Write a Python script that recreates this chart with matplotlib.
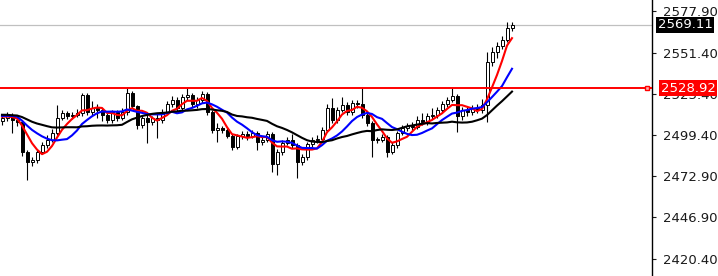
import matplotlib
matplotlib.use("Agg")
import matplotlib.pyplot as plt
import matplotlib.transforms as mtransforms
import numpy as np
import pandas as pd

# Закрытия свечей левее видимой области (нужны только для скользящих средних)
history = [
    2512.0, 2514.0, 2511.0, 2509.0, 2513.0, 2515.0, 2512.0, 2510.0, 2514.0, 2516.0,
    2513.0, 2511.0, 2509.0, 2512.0, 2514.0, 2513.0, 2511.0, 2510.0, 2512.0, 2511.0,
]

# Свечи (цены закрытия, максимумы, минимумы)
first_open = 2508.0
closes = [
    2510.0, 2511.2, 2508.7, 2507.4, 2488.4, 2482.0, 2483.3, 2488.4, 2492.8, 2496.0,
    2500.4, 2510.0, 2513.1, 2511.2, 2511.9, 2513.1, 2524.6, 2513.8, 2516.3, 2515.1,
    2511.9, 2508.7, 2513.8, 2510.0, 2513.8, 2525.8, 2517.6, 2505.5, 2510.0, 2507.4,
    2510.0, 2508.7, 2513.8, 2518.9, 2521.4, 2516.3, 2523.3, 2524.6, 2518.9, 2521.4,
    2525.2, 2513.8, 2502.4, 2503.6, 2502.4, 2498.5, 2491.6, 2498.5, 2499.8, 2498.5,
    2500.4, 2494.7, 2496.0, 2499.8, 2480.8, 2488.4, 2494.1, 2496.0, 2492.8, 2482.0,
    2485.2, 2493.5, 2496.0, 2496.6, 2502.4, 2516.3, 2508.7, 2515.1, 2518.2, 2513.8,
    2519.5, 2518.9, 2511.9, 2506.8, 2496.0, 2496.0, 2497.9, 2488.4, 2492.8, 2500.4,
    2503.6, 2504.9, 2504.3, 2508.7, 2507.4, 2511.2, 2511.9, 2515.1, 2518.9, 2521.4,
    2523.9, 2511.2, 2515.1, 2513.8, 2516.3, 2515.1, 2518.2, 2545.5, 2551.9, 2555.7,
    2559.5, 2567.1, 2569.11,
]
highs = [
    2512.5, 2514.0, 2513.0, 2511.0, 2509.0, 2489.5, 2485.0, 2489.5, 2494.5, 2499.0,
    2503.0, 2518.2, 2515.0, 2514.5, 2513.5, 2515.5, 2525.8, 2526.0, 2521.0, 2519.0,
    2516.5, 2513.0, 2515.0, 2515.0, 2516.0, 2529.0, 2527.0, 2518.5, 2512.0, 2513.1,
    2511.5, 2513.1, 2515.5, 2521.0, 2524.0, 2523.0, 2525.0, 2529.0, 2526.0, 2523.5,
    2527.0, 2526.5, 2515.0, 2506.8, 2505.0, 2503.5, 2500.0, 2500.0, 2502.0, 2501.5,
    2502.5, 2502.0, 2498.0, 2502.0, 2501.0, 2490.0, 2496.0, 2498.0, 2499.5, 2494.0,
    2487.0, 2495.0, 2498.0, 2499.0, 2504.5, 2519.0, 2522.7, 2517.0, 2523.5, 2520.0,
    2521.5, 2521.5, 2529.0, 2513.5, 2508.0, 2498.0, 2499.5, 2499.0, 2495.0, 2502.0,
    2505.5, 2507.0, 2507.5, 2511.0, 2513.0, 2513.0, 2516.0, 2517.0, 2521.0, 2523.5,
    2529.0, 2525.0, 2517.0, 2517.0, 2518.0, 2519.0, 2522.0, 2551.9, 2555.0, 2558.0,
    2562.0, 2570.9, 2570.9,
]
lows = [
    2505.5, 2508.0, 2500.5, 2505.0, 2486.0, 2470.6, 2479.5, 2481.5, 2487.0, 2491.0,
    2494.5, 2499.2, 2508.5, 2509.5, 2509.5, 2510.5, 2511.5, 2512.0, 2512.0, 2510.0,
    2508.0, 2506.5, 2507.0, 2508.0, 2508.5, 2512.0, 2516.0, 2503.0, 2503.5, 2494.1,
    2505.5, 2497.3, 2507.0, 2512.5, 2517.0, 2514.5, 2515.0, 2521.5, 2517.0, 2516.5,
    2519.5, 2512.0, 2500.4, 2494.7, 2500.5, 2497.0, 2489.5, 2490.0, 2496.5, 2496.0,
    2497.0, 2489.6, 2493.0, 2494.5, 2475.7, 2473.8, 2486.5, 2492.5, 2491.0, 2471.9,
    2480.0, 2483.5, 2491.5, 2494.0, 2495.0, 2501.0, 2507.0, 2507.0, 2513.5, 2512.0,
    2512.0, 2516.0, 2510.0, 2505.0, 2485.2, 2494.0, 2494.5, 2485.2, 2487.0, 2491.0,
    2499.0, 2502.0, 2502.5, 2503.0, 2505.5, 2505.5, 2509.5, 2510.0, 2513.5, 2517.0,
    2520.0, 2501.1, 2509.0, 2511.5, 2512.0, 2513.0, 2513.0, 2507.4, 2543.0, 2548.0,
    2553.5, 2558.0, 2565.0,
]

ma_periods = [5, 10, 21]
ma_colors = ["#ff0000", "#0000ff", "#000000"]

level = 2528.92
bid = 2569.11
yticks = [2577.90, 2551.40, 2525.40, 2499.40, 2472.90, 2446.90, 2420.40]

closes = np.array(closes)
opens = np.concatenate([[first_open], closes[:-1]])
x = np.arange(len(closes))

fig = plt.figure(figsize=(7.18, 2.76), dpi=100)
ax = fig.add_axes([0, 0, 652 / 718, 1])

# свечи
ax.vlines(x, lows, highs, color="black", lw=0.8, zorder=2)
up = closes >= opens
body = np.maximum(np.abs(closes - opens), 0.4)
bottom = np.minimum(opens, closes)
ax.bar(x[up], body[up], bottom=bottom[up], width=0.6, color="white",
       edgecolor="black", lw=0.7, zorder=3)
ax.bar(x[~up], body[~up], bottom=bottom[~up], width=0.6, color="black",
       edgecolor="black", lw=0.7, zorder=3)

# скользящие средние
s = pd.Series(np.concatenate([history, closes]))
n_hist = len(history)
for p, c in zip(ma_periods, ma_colors):
    ma = s.rolling(p, min_periods=1).mean().to_numpy()[n_hist:]
    ax.plot(x, ma, color=c, lw=1.5, zorder=4)

# уровни
ax.axhline(bid, color="#c0c0c0", lw=0.9, zorder=1)
ax.axhline(level, color="#ff0000", lw=1.4, zorder=5)
ax.plot([128.9], [level], marker="s", ms=3.5, mfc="#ffb0b0", mec="#ff0000",
        mew=1, clip_on=False, zorder=6)

ax.set_xlim(-0.4, 130)
ax.set_ylim(2409.6, 2584.9)

for side in ["left", "top", "bottom"]:
    ax.spines[side].set_visible(False)
ax.spines["right"].set_color("black")
ax.spines["right"].set_linewidth(1)
ax.set_xticks([])
ax.set_yticks(yticks)
ax.set_yticklabels(["%.2f" % v for v in yticks])
ax.tick_params(axis="y", left=False, labelleft=False, right=True, labelright=True,
               length=3, width=0.8, pad=5, labelsize=9.5, colors="#1a1a1a")

tr = mtransforms.blended_transform_factory(ax.transAxes, ax.transData)
ax.text(1 + 6 / 652, bid, "%.2f" % bid, transform=tr, ha="left", va="center",
        fontsize=9.5, color="white", clip_on=False, zorder=10,
        bbox=dict(boxstyle="square,pad=0.12", fc="black", ec="none"))
ax.text(1 + 9 / 652, level, "%.2f" % level, transform=tr, ha="left", va="center",
        fontsize=9.5, color="white", clip_on=False, zorder=10,
        bbox=dict(boxstyle="square,pad=0.12", fc="#ff0000", ec="none"))

fig.savefig("out.png", dpi=100)
